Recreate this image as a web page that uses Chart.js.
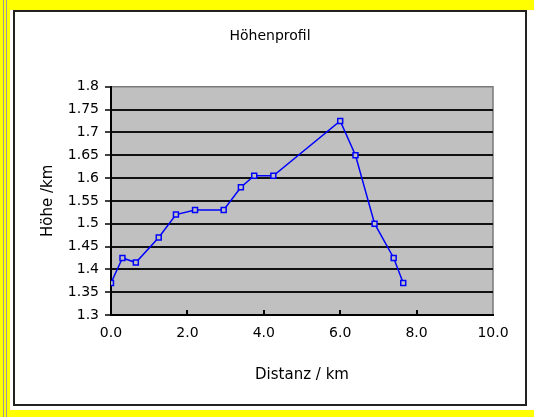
<!DOCTYPE html>
<html>
<head>
<meta charset="utf-8">
<script src="https://cdn.jsdelivr.net/npm/chart.js@4/dist/chart.umd.min.js"></script>
<style>
  body { margin: 0; background: #fff; }
  #wrap { width: 534px; height: 417px; }
</style>
</head>
<body>
<div id="wrap"><canvas id="myChart" width="534" height="417"></canvas></div>
<script>
// Höhenprofil: Distanz (km) vs. Höhe (km)
const distanz = [0.0, 0.3, 0.65, 1.25, 1.7, 2.2, 2.95, 3.4, 3.75, 4.25, 6.0, 6.4, 6.9, 7.4, 7.65];
const hoehe = [1.37, 1.425, 1.415, 1.47, 1.52, 1.53, 1.53, 1.58, 1.605, 1.605, 1.725, 1.65, 1.5, 1.425, 1.37];

const xMin = 0, xMax = 10, xStep = 2;
const yMin = 1.3, yMax = 1.8, yStep = 0.05;

const FONT = "'DejaVu Sans', sans-serif";

// yellow frame, white box, grey plot area
const frame = {
  id: "frame",
  beforeDraw(chart) {
    const c = chart.ctx;
    const a = chart.chartArea;
    c.save();
    c.fillStyle = "#fff";
    c.fillRect(0, 0, chart.width, chart.height);
    c.fillStyle = "#ffff00";
    c.fillRect(0, 0, chart.width, 10);
    c.fillRect(0, 410, chart.width, 7);
    c.fillRect(0, 0, 10, chart.height);
    c.strokeStyle = "#9a9a9a";
    c.lineWidth = 1;
    c.beginPath();
    c.moveTo(3.5, 0); c.lineTo(3.5, chart.height);
    c.moveTo(6.5, 0); c.lineTo(6.5, chart.height);
    c.stroke();
    c.strokeStyle = "#222";
    c.lineWidth = 2;
    c.strokeRect(14, 11, 512, 394);
    c.fillStyle = "#c0c0c0";
    c.fillRect(a.left, a.top, a.right - a.left, a.bottom - a.top);
    c.strokeStyle = "#7a7a7a";
    c.lineWidth = 1.5;
    c.beginPath();
    c.moveTo(a.left, a.top); c.lineTo(a.right, a.top); c.lineTo(a.right, a.bottom);
    c.stroke();
    c.restore();
  },
  afterDatasetsDraw(chart) {
    // small inner tick marks on the x axis
    const c = chart.ctx;
    const xs = chart.scales.x;
    const a = chart.chartArea;
    c.save();
    c.strokeStyle = "#000";
    c.lineWidth = 2;
    xs.ticks.forEach((t) => {
      if (t.value === xMin || t.value === xMax) return;
      const px = Math.round(xs.getPixelForValue(t.value));
      c.beginPath();
      c.moveTo(px, a.bottom);
      c.lineTo(px, a.bottom - 5);
      c.stroke();
    });
    c.restore();
  },
};

const data = {
  datasets: [
    {
      label: "Höhe",
      data: distanz.map((d, i) => ({ x: d, y: hoehe[i] })),
      borderColor: "#0000ff",
      borderWidth: 1.5,
      pointStyle: "rect",
      pointRadius: 3.5,
      pointBorderWidth: 1.5,
      pointBorderColor: "#0000ff",
      pointBackgroundColor: "#c0c0c0",
      tension: 0,
    },
  ],
};

const config = {
  type: "line",
  data: data,
  options: {
    responsive: false,
    animation: false,
    layout: { padding: { left: 14, right: 8, top: 0, bottom: 0 } },
    plugins: {
      legend: { display: false },
      tooltip: { enabled: false },
      title: {
        display: true,
        text: "Höhenprofil",
        color: "#000",
        font: { family: FONT, size: 14, weight: "normal" },
        padding: { top: 28, bottom: 42 },
      },
    },
    scales: {
      x: {
        type: "linear",
        min: xMin,
        max: xMax,
        afterFit(scale) {
          scale.height = 102;
          scale.paddingRight = 41;
        },
        ticks: {
          stepSize: xStep,
          color: "#000",
          font: { family: FONT, size: 14 },
          padding: 10,
          maxRotation: 0,
          callback: (v) => v.toFixed(1),
        },
        grid: { drawOnChartArea: false, drawTicks: false },
        border: { color: "#000", width: 2 },
        title: {
          display: true,
          text: "Distanz / km",
          color: "#000",
          font: { family: FONT, size: 15 },
          padding: { top: 0, bottom: 33 },
        },
      },
      y: {
        type: "linear",
        min: yMin,
        max: yMax,
        afterFit(scale) {
          scale.width = 97;
        },
        ticks: {
          stepSize: yStep,
          color: "#000",
          font: { family: FONT, size: 14 },
          padding: 6,
          callback: (v) => String(Math.round(v * 100) / 100),
        },
        grid: {
          color: (ctx) =>
            ctx.tick && Math.abs(ctx.tick.value - yMax) < 1e-6 ? "rgba(0,0,0,0)" : "#111",
          lineWidth: 2,
          tickLength: 6,
          tickColor: "#000",
          tickWidth: 1.5,
        },
        border: { color: "#000", width: 2 },
        title: {
          display: true,
          text: "Höhe /km",
          color: "#000",
          font: { family: FONT, size: 15 },
          padding: { top: 25, bottom: 0 },
        },
      },
    },
  },
  plugins: [frame],
};

const ctx1 = document.getElementById("myChart");
const chart1 = new Chart(ctx1, config);
</script>
</body>
</html>
